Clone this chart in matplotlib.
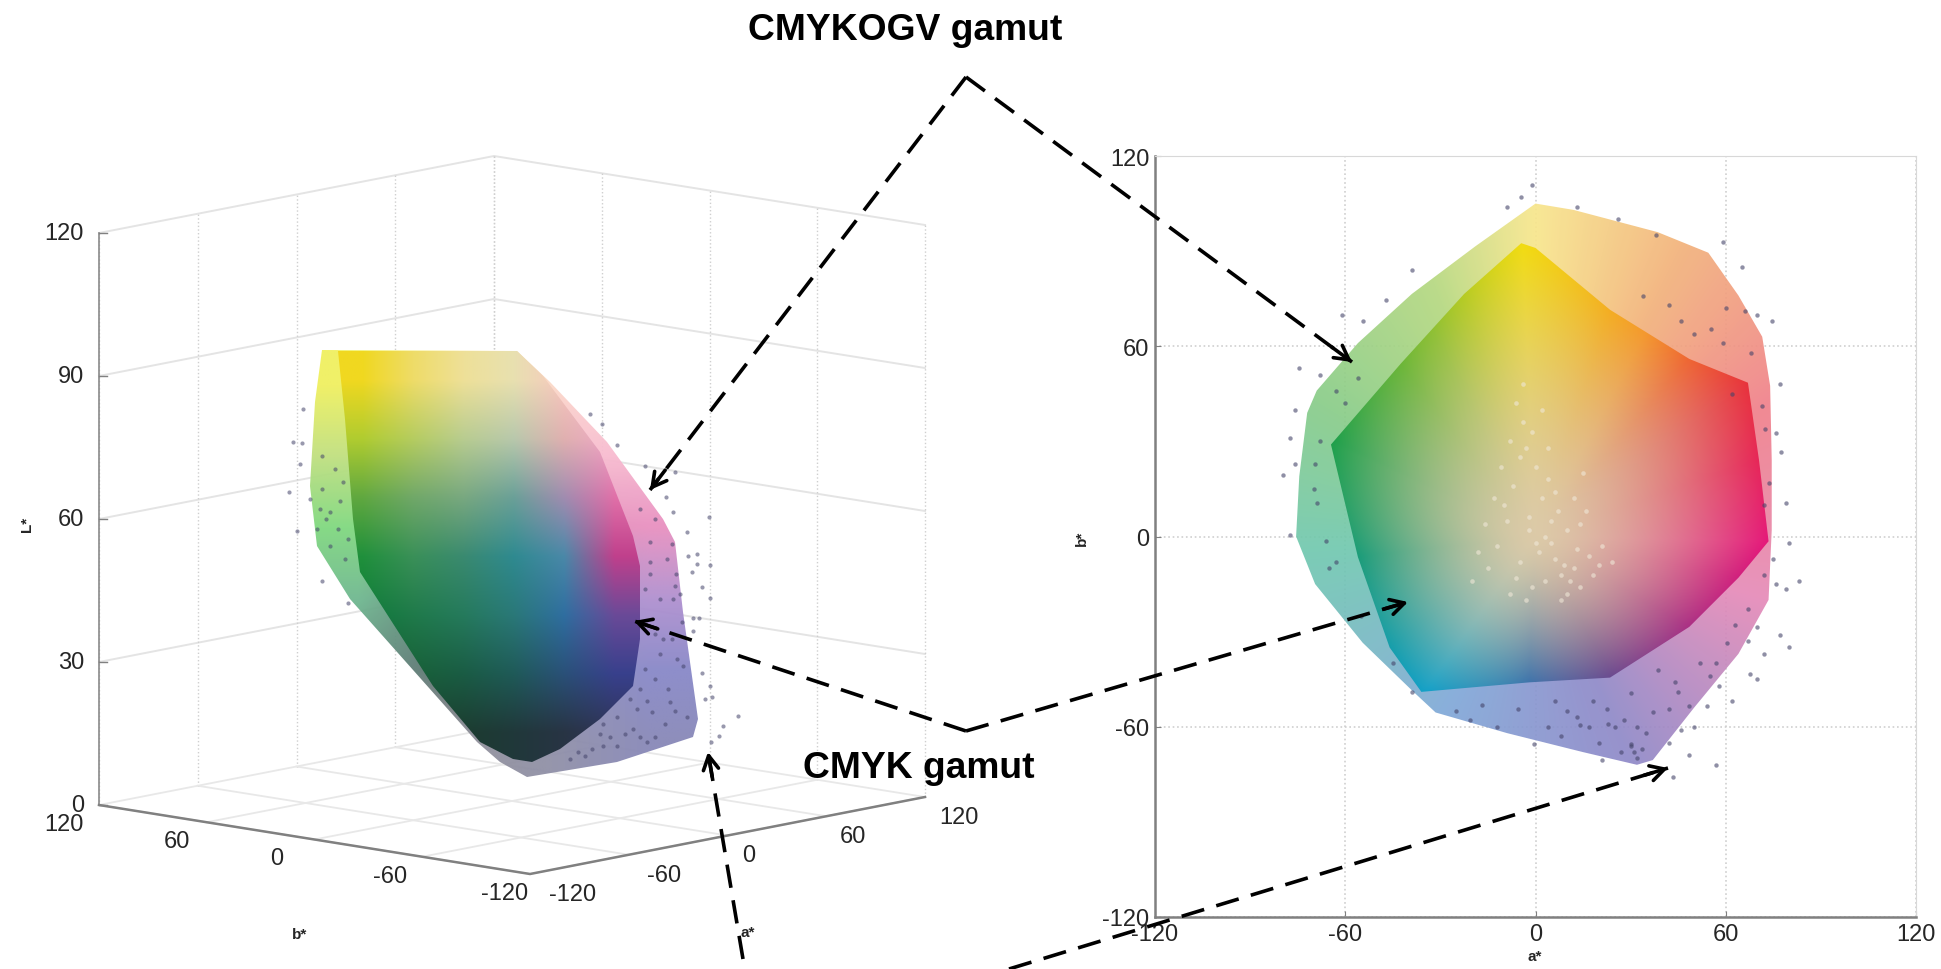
import numpy as np
import matplotlib
matplotlib.use('Agg')
import matplotlib.pyplot as plt
from matplotlib.colors import to_rgb
from matplotlib.patches import Polygon

plt.rcParams['font.family'] = ['Liberation Sans', 'DejaVu Sans']
plt.rcParams['axes.unicode_minus'] = False

# a*, b* and L* ticks
ab_ticks = [-120, -60, 0, 60, 120]
L_ticks = [0, 30, 60, 90, 120]

# right panel: gamut outlines in a*, b*
cmykogv_a = [0, 12, 38.5, 54.5, 64, 71.5, 74, 74.5, 74.5, 73.5, 64, 50, 37, 32, 15, -9, -31.5, -39,
             -54.5, -69.5, -75.5, -74.5, -72, -69, -56, -39, -19]
cmykogv_b = [105, 103, 96, 89.5, 76, 63, 47.5, 24, 2, -20, -37, -54, -70.5, -72, -68, -62, -55.5, -48.5,
             -33.5, -15, 0, 19, 39, 46, 61, 76.5, 91.5]
cmyk_a = [-4.5, 0, 23.5, 48.5, 67, 70.5, 73.5, 64, 48.5, 23.5, -2, -36, -46, -56, -64.5, -42.5, -22.5]
cmyk_b = [92.5, 91, 71.5, 56, 48.5, 24, -1.5, -13, -28.5, -44.5, -46, -49, -35, -6.5, 29, 54.5, 76.5]

# right panel: colours around the hue circle
inner_hue_a = [-4, 35, 67, 72, 25, -35, -52, -63, -30]
inner_hue_b = [92, 65, 48, -2, -45, -50, -10, 30, 60]
inner_hue_col = ['#f2dc10', '#f5972a', '#e8323c', '#e5187a', '#6c4a8f', '#12a0c8', '#1a9c80', '#1fa04a', '#8cc030']
centre_col = '#dccaa8'
outer_hue_a = [0, 45, 70, 72, 30, -30, -70, -65, -30]
outer_hue_b = [100, 90, 40, -20, -70, -58, -5, 40, 75]
outer_hue_col = ['#f8e68c', '#f2b27a', '#f0808a', '#e58ab8', '#8f88c8', '#80a8d8', '#70c8b0', '#88cc88', '#b5d880']

# right panel: printed samples
dots_a = [-1, -4.5, -9, 13, 26, 38, 59, 65, 66, 70, 74.5, 77, 71.5, 76, 77.5, 79, 80, 75, 83, 79, 76, 77, 80, 70, 72,
          67.5, 70, 62, 54, 58, 50, 46, 48.5, 57, 43.5, 42, -39, -47, -61, -54.5, -74.5, -68, -76, -77.5, -76, -79.5,
          -77.5, -39, -20.5, -0.5, 21, 42, 34, 55.5, 59, 30, 22.5, 13, 14, 8, -5.5, -17, 37, 42, 38.5, 52, 48.5, 60.5,
          30, 33.5, -69, -66, -63, -63, -56, -69.5, 72.5, 73.5, 67, 57, 45, 23, 32,
          6, 10, 18, 25, 28, 20, 27, 32, 35, 44, 55, 63, 67, 30, 31, 17, 4, -12, -25, 50, 46, 62, 68, 60, 72, 72, -70,
          -68, -60, -65, -55, -45]
dots_b = [111, 107, 104, 104, 100, 95, 93, 85, 71, 70, 68, 48, 41, 32.5, 26.5, 10.5, -2, -7, -14, -16.5, -15, -31, -35,
          -28.5, -37, -43.5, -45, -52, -53.5, -47, -60, -61, -69, -72, -76, -65, 84, 74.5, 70, 68, 53, 51, 40, 31, 23,
          19.5, 0.5, -49, -58, -65.5, -70.5, 73, 76, 65.5, 61, -49.5, -54.5, -57, -59.5, -63, -54.5, -53, -55.5, -54.5,
          -42, -40, -53.5, -33.5, -65.5, -67, 10.5, -1.5, -8, 46, 50, 23, 34, 17, -23, -40, -49, -59, -60,
          -52, -55, -52, -60, -58, -65, -68, -70, -62, -46, -44, -28, -33, -66, -68, -60, -60, -60, -55, 64, 68, 45, 58,
          72, 10, -12, 15, 30, 42, -10, -25, -40]
pale_a = [-6, -4, -8, -3, 0, 4, -7, -10, 2, 7, 10, 14, 5, -2, 1, -5, 9, 13, 17, -12, -15, 3, 6, 11, -1, 4, 12, 18, 21, -8, -3,
          8, -16, -20, 15, -5, -2, 3, 8, 12, -9, -13, 0, 5, 16, 20, -6, -1, 6, 10, -18, 24, -11, 2, 14, -4]
pale_b = [42, 36, 30, 28, 22, 18, 16, 10, 12, 8, 2, 4, -2, 2, -5, -8, -9, -4, -6, -3, -10, -14, 14, -14, 33, 28, 12, -12, -3,
          -18, -20, -20, 4, -14, 20, 25, 6, 0, -12, -10, 5, 12, -2, 5, 8, -9, -13, -16, -7, -18, -5, -8, 22, 40, -16, 48]

# left panel: silhouettes of the two solids as they appear in the rotated view
view_outer_x = [322, 517, 550, 607, 663, 675, 683, 698, 693, 617, 527, 500, 477, 350, 317, 310, 315]
view_outer_y = [351, 352, 383, 443, 520, 543, 613, 720, 738, 763, 778, 763, 743, 600, 547, 487, 403]
view_inner_x = [338, 517, 543, 600, 633, 640, 640, 633, 600, 560, 532, 513, 480, 433, 360, 353, 345]
view_inner_y = [352, 352, 377, 453, 537, 567, 640, 687, 720, 750, 763, 760, 743, 687, 573, 520, 420]

view_inner_cols = [
    ['#f0d820', '#eedc68', '#eee098', '#e8e0b0', '#f8c8c0', '#f8c0d0'],
    ['#b0cc30', '#b5cc60', '#b8cc90', '#b8c8ac', '#e0b0b0', '#f0a8c8'],
    ['#60a840', '#70a868', '#78a880', '#6aa098', '#a08cb0', '#e070a8'],
    ['#20903c', '#3a9058', '#3a8a70', '#2f8a90', '#4a88a8', '#c0408c'],
    ['#0f7a3a', '#1f7a4a', '#257a5c', '#2a7878', '#2f6ea0', '#6a4a98'],
    ['#145a34', '#186038', '#1a5c44', '#1f5a58', '#2a5078', '#38408c'],
    ['#183c2c', '#1a4030', '#1c3c30', '#20383a', '#283444', '#303458'],
]
view_outer_cols = [
    ['#f0f060', '#f8e880', '#fbd8c8', '#fbd0d8'],
    ['#c0e080', '#c0d0a0', '#f8c0d0', '#f8b8d0'],
    ['#80d880', '#90b0a0', '#e090b8', '#e890c0'],
    ['#70b890', '#608078', '#a090c8', '#b090d0'],
    ['#609080', '#607070', '#9090b8', '#8888c8'],
    ['#909090', '#909098', '#9090a8', '#8888b8'],
]

view_dots_x = [303, 293, 302, 300, 289, 297, 322, 348, 590, 602, 617, 645, 675, 666, 673, 709, 687, 688, 697, 697, 710, 692,
               702, 710, 693, 699, 693, 702, 710, 705, 712, 738, 723, 719, 711, 650, 667, 650, 675, 680, 673, 682, 655, 663,
               645, 660, 677, 683, 647, 670, 652, 687, 633, 617, 647, 603, 592, 578, 617, 637, 603, 330, 317, 343, 330, 322,
               348, 310, 340,
               625, 640, 655, 665, 675, 610, 600, 585, 570, 640, 630, 655, 668, 672, 660, 650, 645, 672, 676, 655, 640,
               322, 326, 335, 338, 320, 345]
view_dots_y = [410, 443, 444, 465, 493, 532, 582, 604, 415, 425, 446, 467, 473, 498, 513, 518, 533, 557, 555, 565, 566, 573,
               588, 599, 619, 619, 632, 674, 687, 700, 698, 717, 727, 737, 743, 543, 560, 563, 587, 595, 600, 623, 635, 640,
               670, 655, 660, 667, 702, 703, 713, 718, 730, 718, 743, 747, 750, 753, 747, 710, 725, 547, 530, 483, 513, 457,
               540, 500, 502,
               735, 738, 738, 725, 712, 738, 735, 757, 760, 690, 700, 680, 690, 640, 600, 575, 590, 545, 575, 520, 510,
               490, 520, 470, 530, 510, 560]


def rgb_list(cols):
    return np.array([to_rgb(c) for c in cols])


def project(a, b, L):
    # the left box is close enough to an axonometric view
    u = (np.asarray(a, float) + 120) / 240
    v = (np.asarray(b, float) + 120) / 240
    x = 530 + u * 395 - v * 431
    y = 875 - u * 77 - v * 69 - np.asarray(L, float) / 120 * 572
    return x, y


def hue_colours(th, hue_a, hue_b, cols):
    ang = np.arctan2(hue_b, hue_a)
    rgb = rgb_list(cols)
    return np.dstack([np.interp(th, ang, rgb[:, i], period=2 * np.pi) for i in range(3)])


fig = plt.figure(figsize=(19.41, 9.70), dpi=100)
tick_col = '#262626'

# right panel, a real a*-b* axes
ax = fig.add_axes([1155 / 1941, (970 - 918) / 970, 761 / 1941, 761 / 970])
ax.set_xlim(-120, 120)
ax.set_ylim(-120, 120)
ax.set_xticks(ab_ticks)
ax.set_yticks(ab_ticks)
ax.tick_params(labelsize=17, length=4, direction='in', colors=tick_col, pad=4, color='#808080')
ax.grid(True, color='#cfcfcf', lw=1.2, ls=':')
ax.set_axisbelow(True)
for side in ['top', 'right']:
    ax.spines[side].set_color('#d8d8d8')
for side in ['left', 'bottom']:
    ax.spines[side].set_color('#808080')
    ax.spines[side].set_linewidth(1.8)

aa, bb = np.meshgrid(np.linspace(-90, 90, 720), np.linspace(-90, 115, 820))
th = np.arctan2(bb, aa)
rr = np.hypot(aa, bb)
img = ax.imshow(hue_colours(th, outer_hue_a, outer_hue_b, outer_hue_col), origin='lower',
                extent=(-90, 90, -90, 115), aspect='auto', alpha=0.92, zorder=2)
img.set_clip_path(Polygon(np.c_[cmykogv_a, cmykogv_b], transform=ax.transData))

edge = hue_colours(th, inner_hue_a, inner_hue_b, inner_hue_col)
rim = np.interp(th, np.arctan2(cmyk_b, cmyk_a), np.hypot(cmyk_a, cmyk_b), period=2 * np.pi)
t = np.clip(rr / rim, 0, 1)[..., None] ** 1.5
mixed = np.array(to_rgb(centre_col)) * (1 - t) + edge * t
img = ax.imshow(mixed, origin='lower', extent=(-90, 90, -90, 115), aspect='auto', zorder=3)
img.set_clip_path(Polygon(np.c_[cmyk_a, cmyk_b], transform=ax.transData))
ax.set_xlim(-120, 120)
ax.set_ylim(-120, 120)

ax.scatter(pale_a, pale_b, s=11, c='#f0e8d8', alpha=0.6, lw=0, zorder=4)
ax.scatter(dots_a, dots_b, s=10, c='#44446a', alpha=0.6, lw=0, zorder=4)

# everything else is placed in picture pixels on a full-size layer
ov = fig.add_axes([0, 0, 1, 1], zorder=5)
ov.patch.set_alpha(0)
ov.axis('off')

# left panel: box walls and floor
for val in L_ticks[1:]:
    x, y = project([-120, 120, 120], [120, 120, -120], [val] * 3)
    ov.plot(x, y, color='#e4e4e4', lw=1.4, zorder=1)
for val in ab_ticks:
    x, y = project([val, val], [-120, 120], [0, 0])
    ov.plot(x, y, color='#e8e8e8', lw=1.3, zorder=1)
    x, y = project([-120, 120], [val, val], [0, 0])
    ov.plot(x, y, color='#e8e8e8', lw=1.3, zorder=1)
    x, y = project([val, val], [120, 120], [0, 120])
    ov.plot(x, y, color='#cfcfcf', lw=1, ls=':', zorder=1)
    x, y = project([120, 120], [val, val], [0, 120])
    ov.plot(x, y, color='#cfcfcf', lw=1, ls=':', zorder=1)

# left panel: axis lines, ticks, tick labels
x, y = project([-120, -120], [120, 120], [0, 120])
ov.plot(x, y, color='#8a8a8a', lw=1.2, zorder=2)
x, y = project([-120, -120, 120], [120, -120, -120], [0, 0, 0])
ov.plot(x, y, color='#808080', lw=1.8, zorder=2)
for val in L_ticks:
    x, y = project(-120, 120, val)
    ov.plot([x, x + 8], [y, y], color='#808080', lw=1, zorder=2)
    ov.text(x - 15, y, str(val), ha='right', va='center', fontsize=17, color=tick_col)
b_tick_dx = [-25, -32, -38, -30, -35]
a_tick_dx = [43, 35, 21, 27, 34]
for val, dx in zip(ab_ticks, b_tick_dx):
    x, y = project(-120, val, 0)
    ov.text(x + dx, y + 19, str(val), ha='center', va='center', fontsize=17, color=tick_col)
for val, dx in zip(ab_ticks, a_tick_dx):
    x, y = project(val, -120, 0)
    ov.text(x + dx, y + 20, str(val), ha='center', va='center', fontsize=17, color=tick_col)

# left panel: the two solids
box = (310, 698, 778, 351)
img = ov.imshow(rgb_list(sum(view_outer_cols, [])).reshape(6, 4, 3), extent=box, aspect='auto',
                interpolation='bilinear', alpha=0.95, zorder=3)
img.set_clip_path(Polygon(np.c_[view_outer_x, view_outer_y], transform=ov.transData))
box = (338, 640, 763, 352)
img = ov.imshow(rgb_list(sum(view_inner_cols, [])).reshape(7, 6, 3), extent=box, aspect='auto',
                interpolation='bilinear', zorder=4)
img.set_clip_path(Polygon(np.c_[view_inner_x, view_inner_y], transform=ov.transData))
ov.set_xlim(0, 1941)
ov.set_ylim(970, 0)
ov.scatter(view_dots_x, view_dots_y, s=9, c='#44446a', alpha=0.55, lw=0, zorder=5)

# axis names
ov.text(27, 524, 'L*', rotation=90, ha='center', va='center', fontsize=11, fontweight='bold', color=tick_col)
ov.text(300, 935, 'b*', ha='center', va='center', fontsize=11, fontweight='bold', color=tick_col)
ov.text(748, 933, 'a*', ha='center', va='center', fontsize=11, fontweight='bold', color=tick_col)
ov.text(1082, 538, 'b*', rotation=90, ha='center', va='center', fontsize=11, fontweight='bold', color=tick_col)
ov.text(1535, 957, 'a*', ha='center', va='center', fontsize=11, fontweight='bold', color=tick_col)

# callouts
ov.text(905, 30, 'CMYKOGV gamut', ha='center', va='center', fontsize=26.8, fontweight='bold', color='black')
ov.text(919, 769, 'CMYK gamut', ha='center', va='center', fontsize=26.8, fontweight='bold', color='black')
callouts = [
    ((966, 78), (1352, 363)),
    ((966, 78), (650, 491)),
    ((966, 732), (1408, 603)),
    ((966, 732), (634, 622)),
    ((743, 960), (708, 753)),
    ((1009, 970), (1668, 769)),
]
for start, tip in callouts:
    ov.plot([start[0], tip[0]], [start[1], tip[1]], color='black', lw=2.6, dashes=(6.5, 3.5), zorder=6)
    d = np.array(tip, float) - np.array(start, float)
    back = np.array(tip) - d / np.hypot(*d) * 25
    ov.annotate('', xy=tip, xytext=back, zorder=7,
                arrowprops=dict(arrowstyle='->,head_length=1.0,head_width=0.55', lw=2.6, color='black',
                                shrinkA=0, shrinkB=0))

fig.savefig('out.png', dpi=100)
